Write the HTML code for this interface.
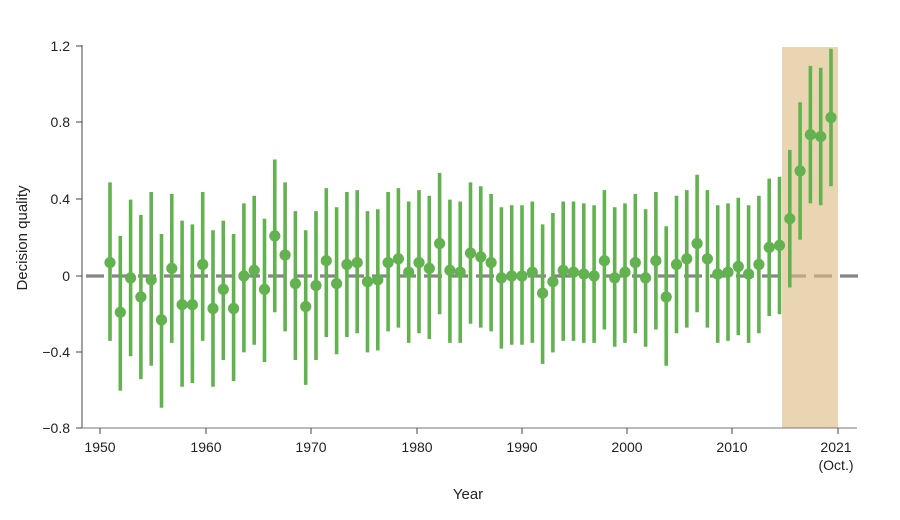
<!DOCTYPE html>
<html><head><meta charset="utf-8"><style>
html,body{margin:0;padding:0;background:#fff;}
svg{display:block;font-family:"Liberation Sans",sans-serif;}
</style></head><body>
<svg width="900" height="520" viewBox="0 0 900 520" xmlns="http://www.w3.org/2000/svg">
<line x1="86" y1="276" x2="862" y2="276" stroke="#858585" stroke-width="3.2" stroke-dasharray="18,8"/>
<rect x="782" y="47" width="56" height="381" fill="#dcbc82" fill-opacity="0.62"/>
<path fill="none" stroke="#62b34f" stroke-width="3.6" d="
M110 182.4V340.9 M120.3 235.9V390.6 M130.6 199.6V356.2 M140.9 214.9V379.1 M151.2 192V365.8 M161.5 234V407.8 M171.8 193.9V342.9 M182.1 220.6V386.8 M192.4 224.4V383 M202.7 192V340.9
M213 230.2V386.8 M223.3 220.6V360 M233.6 234V381.1 M243.9 203.4V352.4 M254.2 195.8V344.8 M264.5 218.7V362 M274.8 159.5V312.3 M285.1 182.4V331.4 M295.4 211.1V360 M305.7 230.2V384.9
M316 211.1V360 M326.3 188.1V337.1 M336.6 207.2V354.3 M346.9 192V337.1 M357.2 190.1V333.3 M367.5 211.1V352.4 M377.8 209.2V350.5 M388.1 192V331.4 M398.4 188.1V327.6 M408.7 201.5V342.9
M419 190.1V333.3 M429.3 195.8V339 M439.6 172.9V314.2 M449.9 199.6V342.9 M460.2 201.5V342.9 M470.5 182.4V323.8 M480.8 186.2V327.6 M491.1 193.9V331.4 M501.4 207.2V348.6 M511.7 205.3V344.8
M522 205.3V344.8 M532.3 201.5V342.9 M542.6 224.4V363.9 M552.9 213V352.4 M563.2 201.5V340.9 M573.5 201.5V340.9 M583.8 203.4V342.9 M594.1 205.3V342.9 M604.4 190.1V329.5 M614.7 207.2V346.7
M625 203.4V342.9 M635.3 193.9V333.3 M645.6 209.2V346.7 M655.9 192V329.5 M666.2 226.3V365.8 M676.5 195.8V333.3 M686.8 190.1V327.6 M697.1 174.8V312.3 M707.4 190.1V327.6 M717.7 205.3V342.9
M728 203.4V340.9 M738.3 197.7V335.2 M748.6 205.3V342.9 M758.9 195.8V333.3 M769.2 178.6V316.1 M779.5 176.7V314.2 M789.8 149.9V287.5 M800.1 102.2V239.7 M810.4 65.9V203.4 M820.7 67.8V205.3 M831 48.7V186.2"/>
<g fill="#62b34f">
<circle cx="110" cy="262.6" r="5.6"/><circle cx="120.3" cy="312.3" r="5.6"/><circle cx="130.6" cy="277.9" r="5.6"/><circle cx="140.9" cy="297" r="5.6"/><circle cx="151.2" cy="279.8" r="5.6"/><circle cx="161.5" cy="319.9" r="5.6"/><circle cx="171.8" cy="268.4" r="5.6"/><circle cx="182.1" cy="304.7" r="5.6"/><circle cx="192.4" cy="304.7" r="5.6"/><circle cx="202.7" cy="264.5" r="5.6"/>
<circle cx="213" cy="308.5" r="5.6"/><circle cx="223.3" cy="289.4" r="5.6"/><circle cx="233.6" cy="308.5" r="5.6"/><circle cx="243.9" cy="276" r="5.6"/><circle cx="254.2" cy="270.3" r="5.6"/><circle cx="264.5" cy="289.4" r="5.6"/><circle cx="274.8" cy="235.9" r="5.6"/><circle cx="285.1" cy="255" r="5.6"/><circle cx="295.4" cy="283.6" r="5.6"/><circle cx="305.7" cy="306.6" r="5.6"/>
<circle cx="316" cy="285.6" r="5.6"/><circle cx="326.3" cy="260.7" r="5.6"/><circle cx="336.6" cy="283.6" r="5.6"/><circle cx="346.9" cy="264.5" r="5.6"/><circle cx="357.2" cy="262.6" r="5.6"/><circle cx="367.5" cy="281.7" r="5.6"/><circle cx="377.8" cy="279.8" r="5.6"/><circle cx="388.1" cy="262.6" r="5.6"/><circle cx="398.4" cy="258.8" r="5.6"/><circle cx="408.7" cy="272.2" r="5.6"/>
<circle cx="419" cy="262.6" r="5.6"/><circle cx="429.3" cy="268.4" r="5.6"/><circle cx="439.6" cy="243.5" r="5.6"/><circle cx="449.9" cy="270.3" r="5.6"/><circle cx="460.2" cy="272.2" r="5.6"/><circle cx="470.5" cy="253.1" r="5.6"/><circle cx="480.8" cy="256.9" r="5.6"/><circle cx="491.1" cy="262.6" r="5.6"/><circle cx="501.4" cy="277.9" r="5.6"/><circle cx="511.7" cy="276" r="5.6"/>
<circle cx="522" cy="276" r="5.6"/><circle cx="532.3" cy="272.2" r="5.6"/><circle cx="542.6" cy="293.2" r="5.6"/><circle cx="552.9" cy="281.7" r="5.6"/><circle cx="563.2" cy="270.3" r="5.6"/><circle cx="573.5" cy="272.2" r="5.6"/><circle cx="583.8" cy="274.1" r="5.6"/><circle cx="594.1" cy="276" r="5.6"/><circle cx="604.4" cy="260.7" r="5.6"/><circle cx="614.7" cy="277.9" r="5.6"/>
<circle cx="625" cy="272.2" r="5.6"/><circle cx="635.3" cy="262.6" r="5.6"/><circle cx="645.6" cy="277.9" r="5.6"/><circle cx="655.9" cy="260.7" r="5.6"/><circle cx="666.2" cy="297" r="5.6"/><circle cx="676.5" cy="264.5" r="5.6"/><circle cx="686.8" cy="258.8" r="5.6"/><circle cx="697.1" cy="243.5" r="5.6"/><circle cx="707.4" cy="258.8" r="5.6"/><circle cx="717.7" cy="274.1" r="5.6"/>
<circle cx="728" cy="272.2" r="5.6"/><circle cx="738.3" cy="266.5" r="5.6"/><circle cx="748.6" cy="274.1" r="5.6"/><circle cx="758.9" cy="264.5" r="5.6"/><circle cx="769.2" cy="247.4" r="5.6"/><circle cx="779.5" cy="245.4" r="5.6"/><circle cx="789.8" cy="218.7" r="5.6"/><circle cx="800.1" cy="170.9" r="5.6"/><circle cx="810.4" cy="134.7" r="5.6"/><circle cx="820.7" cy="136.6" r="5.6"/><circle cx="831" cy="117.5" r="5.6"/>
</g>
<line x1="82" y1="45" x2="82" y2="428" stroke="#444" stroke-width="1"/>
<line x1="82" y1="428" x2="857" y2="428" stroke="#777" stroke-width="1"/>
<g stroke="#444" stroke-width="1">
<line x1="76" y1="46" x2="82" y2="46"/><line x1="76" y1="122" x2="82" y2="122"/><line x1="76" y1="199" x2="82" y2="199"/><line x1="76" y1="276" x2="82" y2="276"/><line x1="76" y1="352" x2="82" y2="352"/><line x1="76" y1="428" x2="82" y2="428"/>
<line x1="100" y1="428" x2="100" y2="434"/><line x1="206" y1="428" x2="206" y2="434"/><line x1="311" y1="428" x2="311" y2="434"/><line x1="417" y1="428" x2="417" y2="434"/><line x1="522" y1="428" x2="522" y2="434"/><line x1="627" y1="428" x2="627" y2="434"/><line x1="732" y1="428" x2="732" y2="434"/><line x1="838" y1="428" x2="838" y2="434"/>
</g>
<g font-size="14" fill="#222" text-anchor="end">
<text x="70" y="51">1.2</text><text x="70" y="127">0.8</text><text x="70" y="204">0.4</text><text x="70" y="281">0</text><text x="70" y="357">−0.4</text><text x="70" y="433">−0.8</text>
</g>
<g font-size="14" fill="#222" text-anchor="middle">
<text x="100" y="452">1950</text><text x="206" y="452">1960</text><text x="311" y="452">1970</text><text x="417" y="452">1980</text><text x="522" y="452">1990</text><text x="627" y="452">2000</text><text x="732" y="452">2010</text><text x="836" y="452">2021</text><text x="836" y="470">(Oct.)</text>
</g>
<text x="468" y="499" font-size="15" fill="#222" text-anchor="middle">Year</text>
<text transform="translate(27,238) rotate(-90)" font-size="15" fill="#222" text-anchor="middle">Decision quality</text>
</svg>
</body></html>
